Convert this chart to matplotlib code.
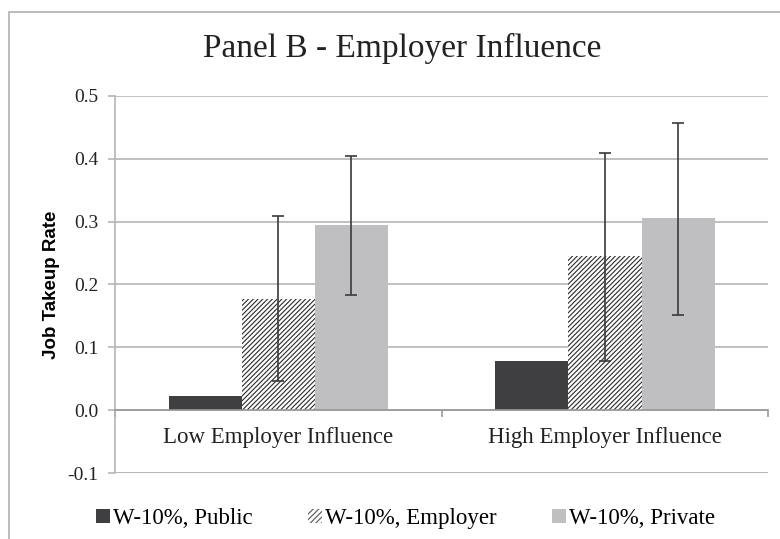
import matplotlib.pyplot as plt
import matplotlib.patches as mpatches
from matplotlib.ticker import FixedLocator
import numpy as np

# data
groups = ["Low Employer Influence", "High Employer Influence"]
series = ["W-10%, Public", "W-10%, Employer", "W-10%, Private"]
public = [0.022, 0.079]
employer = [0.177, 0.245]
private = [0.294, 0.305]
employer_lo = [0.046, 0.079]
employer_hi = [0.309, 0.410]
private_lo = [0.183, 0.152]
private_hi = [0.405, 0.457]

plt.rcParams['font.family'] = ['Liberation Serif', 'DejaVu Serif']
plt.rcParams['hatch.linewidth'] = 0.8

fig = plt.figure(figsize=(7.8, 5.39), dpi=100)
ax = fig.add_axes([0.1474, 0.1224, 0.8376, 0.6996])

# grey frame around the whole chart
fig.patches.append(mpatches.Rectangle((0.011, -0.01), 1.2, 0.988, transform=fig.transFigure,
                                      fill=False, edgecolor='#b0b0b0', linewidth=1.2))

x = np.arange(len(groups))
w = 0.224

ax.bar(x - w, public, w, color='#3f3f41', zorder=3)
ax.bar(x, employer, w, color='white', edgecolor='#2b2b2b', hatch='///////', linewidth=0, zorder=3)
ax.bar(x + w, private, w, color='#bfbfc1', zorder=3)

emp = np.array(employer)
prv = np.array(private)
ax.errorbar(x, emp, yerr=[emp - np.array(employer_lo), np.array(employer_hi) - emp],
            fmt='none', ecolor='#3a3a3a', elinewidth=1.2, capsize=4, capthick=1.2, zorder=4)
ax.errorbar(x + w, prv, yerr=[prv - np.array(private_lo), np.array(private_hi) - prv],
            fmt='none', ecolor='#3a3a3a', elinewidth=1.2, capsize=4, capthick=1.2, zorder=4)

ax.set_xlim(-0.5, 1.5)
ax.set_ylim(-0.1, 0.5)
ax.set_yticks(np.arange(-0.1, 0.51, 0.1))
ax.set_yticklabels(['-0.1', '0.0', '0.1', '0.2', '0.3', '0.4', '0.5'], fontsize=14, color='#222222')
ax.yaxis.grid(True, color='#b5b5b5', linewidth=1.2, zorder=0)
ax.axhline(-0.1, color='#b5b5b5', linewidth=1.2, zorder=0)
ax.tick_params(axis='y', length=5, color='#b5b5b5', width=1.2, pad=7)

# category axis sits on zero
ax.spines['bottom'].set_position(('data', 0))
ax.spines['bottom'].set_color('#999999')
ax.spines['bottom'].set_linewidth(1.2)
ax.spines['bottom'].set_zorder(5)
ax.set_xticks(x)
ax.set_xticklabels(groups, fontsize=16.5, color='#222222')
ax.tick_params(axis='x', which='major', length=0, pad=12)
ax.xaxis.set_minor_locator(FixedLocator([-0.5, 0.5, 1.5]))
ax.tick_params(axis='x', which='minor', length=5, color='#999999', width=1.2)

for s in ['top', 'right']:
    ax.spines[s].set_visible(False)
ax.spines['left'].set_color('#b5b5b5')
ax.spines['left'].set_linewidth(1.2)

ax.set_ylabel('Job Takeup Rate', fontfamily='Liberation Sans', fontweight='bold', fontsize=13.5,
              labelpad=5)

fig.text(0.516, 0.91, 'Panel B - Employer Influence', ha='center', va='center', fontsize=24,
         color='#222222')

handles = [mpatches.Patch(facecolor='#3f3f41', label=series[0]),
           mpatches.Patch(facecolor='white', edgecolor='#555555', hatch='//////', linewidth=0, label=series[1]),
           mpatches.Patch(facecolor='#bfbfc1', label=series[2])]
fig.legend(handles=handles, loc='center', bbox_to_anchor=(0.52, 0.038), ncol=3, frameon=False,
           fontsize=16.5, handlelength=0.6, handleheight=0.6, handletextpad=0.15, columnspacing=2.4)

fig.savefig('out.png', dpi=100)
